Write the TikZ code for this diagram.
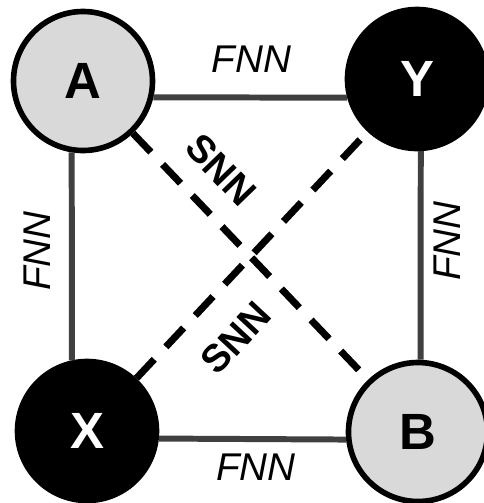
\documentclass[tikz,border=0pt]{standalone}
\usepackage{fontspec}
\setmainfont{Liberation Sans}
\definecolor{nodegray}{RGB}{217,217,217}
\definecolor{framegray}{RGB}{64,64,64}

\begin{document}
\begin{tikzpicture}[
        agent/.style={circle, draw=black, line width=3.2pt, minimum size=2.78cm,
            inner sep=0pt, font=\fontsize{29}{29}\selectfont\bfseries},
        lightagent/.style={agent, fill=nodegray, text=black},
        darkagent/.style={agent, fill=black, text=white},
        fnn/.style={line width=3.4pt, draw=framegray},
        snn/.style={line width=4pt, draw=black, dash pattern=on 0.52cm off 0.34cm},
        netlabel/.style={font=\fontsize{22}{22}\selectfont, inner sep=0pt}
    ]
            \useasboundingbox (0, 0) rectangle (9.68, 10.06);

            \node[lightagent] (A) at (1.66, 8.44) {A};
            \node[darkagent] (Y) at (8.34, 8.48) {Y};
            \node[darkagent] (X) at (1.74, 1.44) {X};
            \node[lightagent] (B) at (8.36, 1.42) {B};

            % square of FNN links
            \draw[fnn] (A.-13) -- (Y.195);
            \draw[fnn] (A.-99) -- (X.102);
            \draw[fnn] (X.-6) -- (B.186);
            \draw[fnn] (Y.-87) -- (B.88);

            % crossing SNN links
            \draw[snn] (A) -- (B);
            \draw[snn] (X) -- (Y);

            \node[netlabel] (fnnTop) at (5.03, 8.88) {\itshape FNN};
            \node[netlabel] (fnnBottom) at (5.12, 0.72) {\itshape FNN};
            \node[netlabel, rotate=90] (fnnLeft) at (0.74, 5.04) {\itshape FNN};
            \node[netlabel, rotate=90] (fnnRight) at (8.94, 5.24) {\itshape FNN};

            \node[netlabel, rotate=-46] (snnUp) at (4.42, 6.66) {\bfseries SNN};
            \node[netlabel, rotate=47] (snnDown) at (4.72, 3.30) {\bfseries SNN};
        \end{tikzpicture}
\end{document}
